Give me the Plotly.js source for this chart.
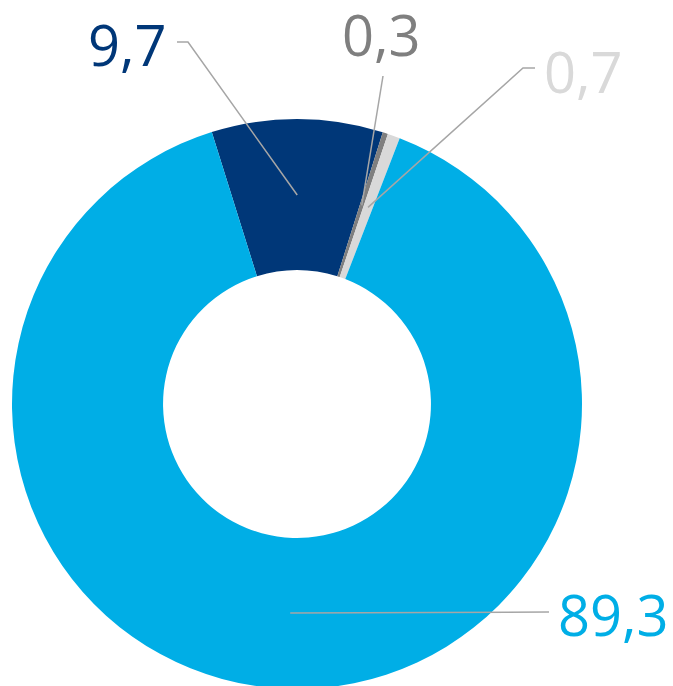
<!DOCTYPE html>
<html>
<head>
<meta charset="utf-8">
<script src="https://cdn.plot.ly/plotly-3.0.1.min.js"></script>
<style>
html,body{margin:0;padding:0;overflow:hidden;background:#fff;}
#chart{width:673px;height:700px;}
</style>
</head>
<body>
<div id="chart"></div>
<script>
// ---- data ----
const categories = ['Segment A', 'Segment B', 'Segment C', 'Segment D'];
const values = [9.7, 0.3, 0.7, 89.3];
const valueLabels = ['9,7', '0,3', '0,7', '89,3'];

// ---- style ----
const sliceColors = ['#003778', '#7f7f7f', '#d9d9d9', '#00aee6'];
const textColors = ['#003778', '#7f7f7f', '#d9d9d9', '#00aee6'];
const W = 673, H = 700;
const cx = 297, cy = 404, R = 285, holeFrac = 0.47;
const rotation = -17.4;
const anchorR = 209;
// label text centres and leader line starts (pixels)
const labelPos = [[127, 44], [381.5, 34], [583.5, 71], [613.5, 614]];
const lineStart = [[[177, 42], [188, 42]], [[383, 76]], [[535, 68], [523, 68]], [[549, 612]]];

const px = x => x / W;
const py = y => 1 - y / H;

// anchor points at mid-angle of each slice
const total = values.reduce((a, b) => a + b, 0);
let acc = 0;
const anchors = values.map(v => {
  const mid = rotation + (acc + v / 2) / total * 360;
  acc += v;
  const a = mid * Math.PI / 180;
  return [cx + anchorR * Math.sin(a), cy - anchorR * Math.cos(a)];
});

const shapes = anchors.map((p, i) => {
  const pts = lineStart[i].concat([p]);
  const path = pts.map((q, k) => (k ? 'L' : 'M') + px(q[0]) + ',' + py(q[1])).join(' ');
  return {type: 'path', xref: 'paper', yref: 'paper', path: path,
          line: {color: '#a6a6a6', width: 1.5}};
});

const annotations = valueLabels.map((t, i) => ({
  text: t, xref: 'paper', yref: 'paper',
  x: px(labelPos[i][0]), y: py(labelPos[i][1]),
  xanchor: 'center', yanchor: 'middle', showarrow: false,
  font: {family: 'Open Sans, sans-serif', size: 56, color: textColors[i]}
}));

const trace = {
  type: 'pie', labels: categories, values: values,
  sort: false, direction: 'clockwise', rotation: rotation,
  hole: holeFrac, textinfo: 'none', hoverinfo: 'none',
  marker: {colors: sliceColors, line: {width: 0}},
  domain: {x: [(cx - R) / W, (cx + R) / W], y: [1 - (cy + R) / H, 1 - (cy - R) / H]},
  showlegend: false
};

Plotly.newPlot('chart', [trace], {
  width: W, height: H,
  margin: {l: 0, r: 0, t: 0, b: 0},
  paper_bgcolor: '#fff', plot_bgcolor: '#fff',
  showlegend: false, shapes: shapes, annotations: annotations
}, {staticPlot: true, displayModeBar: false});
</script>
</body>
</html>
